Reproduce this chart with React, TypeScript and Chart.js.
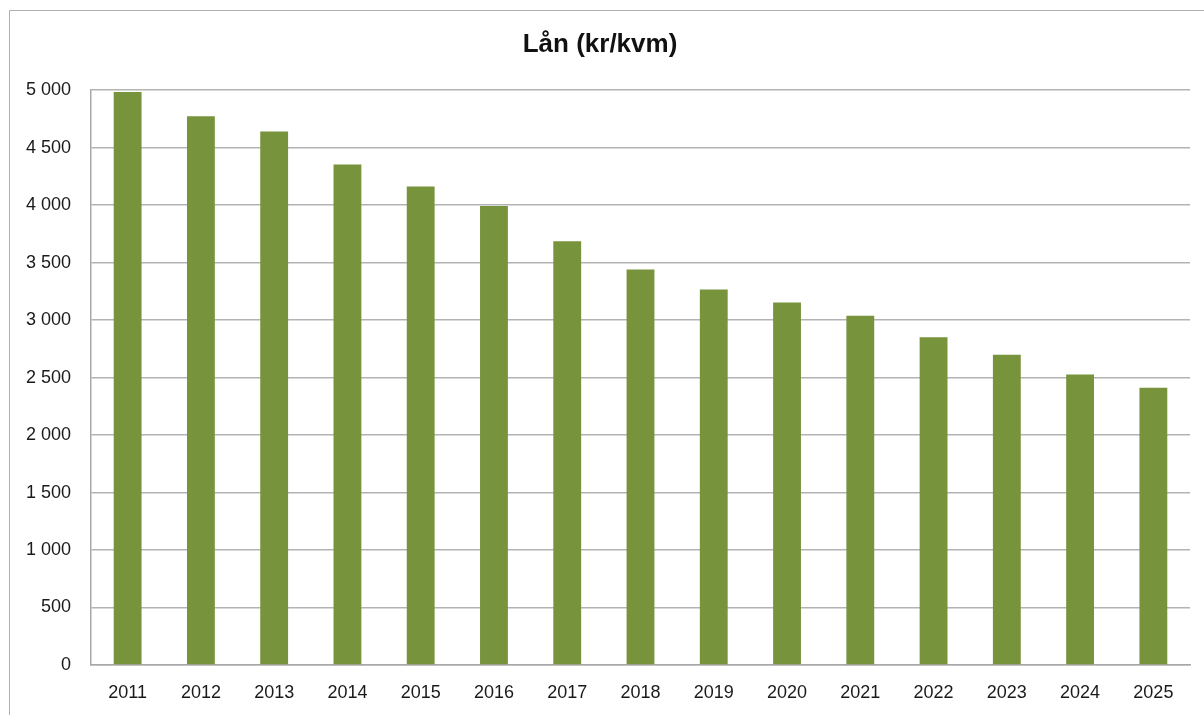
import React, { useEffect, useRef } from "react";
import { Chart, registerables } from "chart.js";

Chart.register(...registerables);

const titleText = "Lån (kr/kvm)";
const years = ["2011","2012","2013","2014","2015","2016","2017","2018","2019","2020","2021","2022","2023","2024","2025"];
const loanValues = [4985, 4774, 4640, 4354, 4162, 3992, 3687, 3441, 3267, 3154, 3038, 2850, 2698, 2528, 2411];
const yMin = 0;
const yMax = 5000;
const yStep = 500;

const fmt = (v: number) => {
  const s = Math.round(v).toString();
  return s.replace(/\B(?=(\d{3})+(?!\d))/g, " ");
};

export default function App() {
  const ref = useRef<HTMLCanvasElement | null>(null);
  useEffect(() => {
    document.documentElement.style.overflow = "hidden";
    document.body.style.overflow = "hidden";
    const ctx = ref.current!;
    const chart = new Chart(ctx, {
      type: "bar",
      data: {
        labels: years,
        datasets: [
          {
            data: loanValues,
            backgroundColor: "#77933C",
            borderWidth: 0,
            categoryPercentage: 1,
            barPercentage: 0.38,
          },
        ],
      },
      options: {
        animation: false,
        responsive: false,
        maintainAspectRatio: false,
        layout: { padding: { left: 0, right: 14, top: 0, bottom: 0 } },
        plugins: {
          legend: { display: false },
          tooltip: { enabled: false },
          title: {
            display: true,
            text: titleText,
            color: "#111",
            font: { family: "'Liberation Sans', Arial, sans-serif", size: 26, weight: "bold" },
            padding: { top: 18, bottom: 30 },
          },
        },
        scales: {
          x: {
            afterFit: (scale: any) => {
              scale.height = 50;
            },
            grid: { display: false, drawTicks: false },
            border: { display: true, color: "#a8a8a8", width: 1.5 },
            ticks: {
              color: "#1a1a1a",
              padding: 17,
              maxRotation: 0,
              font: { family: "'Liberation Sans', Arial, sans-serif", size: 18 },
            },
          },
          y: {
            min: yMin,
            max: yMax,
            afterFit: (scale: any) => {
              scale.width = 81;
            },
            grid: { color: "#b3b3b3", lineWidth: 1.5, drawTicks: false },
            border: { display: true, color: "#a8a8a8", width: 1.5 },
            ticks: {
              stepSize: yStep,
              color: "#1a1a1a",
              padding: 20,
              font: { family: "'Liberation Sans', Arial, sans-serif", size: 18 },
              callback: (v: any) => fmt(Number(v)),
            },
          },
        },
      },
    });
    return () => chart.destroy();
  }, []);
  return (
    <div
      style={{
        position: "absolute",
        left: 9,
        top: 10,
        width: 1200,
        height: 710,
        borderTop: "1px solid #b0b0b0",
        borderLeft: "1px solid #b0b0b0",
        background: "#fff",
      }}
    >
      <canvas ref={ref} width={1194} height={704} style={{ display: "block", width: 1194, height: 704 }} />
    </div>
  );
}
